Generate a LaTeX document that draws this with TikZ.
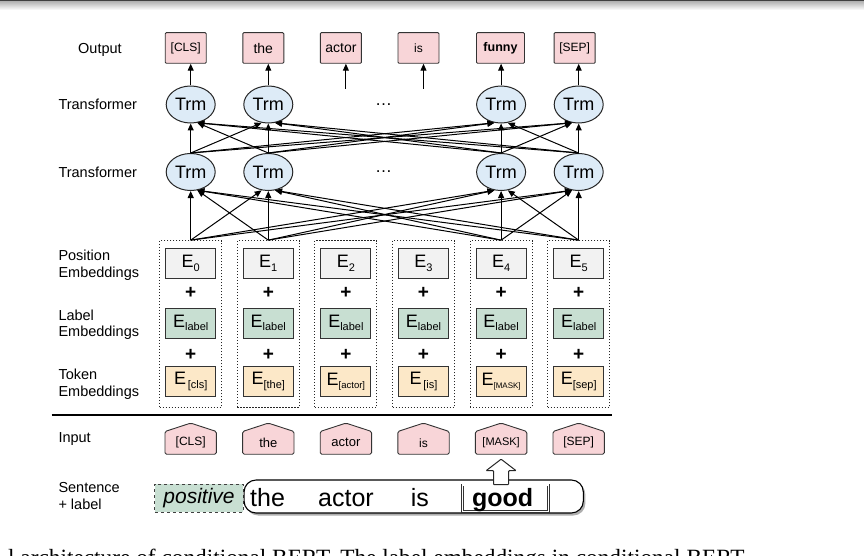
\documentclass[tikz,border=0pt]{standalone}
\usepackage{fontspec}
\setmainfont{Liberation Sans}
\newfontfamily\capfont{Liberation Serif}
\usetikzlibrary{arrows.meta,shapes.geometric,backgrounds,shadows}
\definecolor{outpink}{HTML}{F8D5D8}
\definecolor{trmblue}{HTML}{DDEBF7}
\definecolor{posgray}{HTML}{F2F2F2}
\definecolor{labgreen}{HTML}{C8DFD2}
\definecolor{tokbeige}{HTML}{FCE8C8}
\newcommand\myfs[2]{\fontsize{#1}{#2}\selectfont}
\newcommand\Esub[2][11]{E\raisebox{-3.6pt}{\myfs{#1}{#1}#2}}
\begin{document}
\begin{tikzpicture}[x=1pt,y=-1pt,
  lbl/.style={anchor=west, align=left, font=\myfs{14.5}{16.7}, inner sep=0},
  arr/.style={-{Triangle[length=7pt,width=6pt]}, line width=1pt, black},
  colbox/.style={draw=black!85, dash pattern=on 1.2pt off 1.8pt, line width=1pt, minimum width=62pt, minimum height=166.7pt, inner sep=0},
  ebox/.style={draw=black!80, line width=0.9pt, minimum width=50pt, minimum height=30pt, inner sep=0, font=\myfs{18}{20}},
  posbox/.style={ebox, fill=posgray},
  labbox/.style={ebox, fill=labgreen},
  tokbox/.style={ebox, fill=tokbeige},
  plus/.style={font=\bfseries\myfs{19}{19}, inner sep=0},
  trm/.style={ellipse, draw=black!85, line width=1pt, fill=trmblue, minimum width=49pt, minimum height=37pt, inner sep=0, font=\myfs{18}{20}},
  dotsnode/.style={font=\myfs{17}{18}, inner sep=0},
  outbox/.style={draw=black!80, line width=0.9pt, fill=outpink, minimum width=41pt, minimum height=30.6pt, inner sep=0, rounded corners=1pt},
  inp/.style={minimum width=51pt, minimum height=22.3pt, inner sep=0, font=\myfs{12}{14}},
  inpshape/.style={draw=black!80, line width=0.9pt, fill=outpink, rounded corners=1.5pt},
  word/.style={anchor=base west, inner sep=0, font=\myfs{25}{27}},
  blockarr/.style={draw=black!85, line width=1pt, fill=white, rounded corners=0.8pt}
]
\useasboundingbox (0,0) rectangle (864,556);
\clip (0,0) rectangle (864,556);
% top edge shadow
\shade[top color=black!30, bottom color=white] (0,1.3) rectangle (864,10);
\fill[black!75] (0,0) rectangle (864,1.3);

% left labels
\node[lbl] (lOut) at (78,50) {Output};
\node[lbl] (lT2) at (58.3,104.5) {Transformer};
\node[lbl] (lT1) at (58.3,172) {Transformer};
\node[lbl] (lPos) at (58.3,265) {Position\\Embeddings};
\node[lbl] (lLab) at (58.3,324.7) {Label\\Embeddings};
\node[lbl] (lTok) at (58.3,384.5) {Token\\Embeddings};
\node[lbl] (lIn) at (58.3,439.3) {Input};
\node[lbl] (lSen) at (58.3,496.3) {Sentence\\+ label};

% embedding columns
\foreach \i/\x in {1/190.7,2/268.3,3/345.9,4/423.5,5/501.1,6/578.7}{
  \node[colbox] (c\i) at (\x,324) {};
  \pgfmathtruncatemacro\k{\i-1}
  \node[posbox] (p\i) at (\x,263.3) {\Esub{\k}};
  \node[plus] (pa\i) at (\x,292.7) {+};
  \node[labbox] (l\i) at (\x,323) {\Esub{label}};
  \node[plus] (pb\i) at (\x,355) {+};
}
\node[tokbox] (k1) at (190.7,381.7) {\Esub{\,[cls]}};
\node[tokbox] (k2) at (268.3,381.7) {\Esub{[the]}};
\node[tokbox] (k3) at (345.9,381.7) {\Esub[9.5]{[actor]}};
\node[tokbox] (k4) at (423.5,381.7) {\Esub{\,[is]}};
\node[tokbox] (k5) at (501.1,381.7) {\Esub[8]{[MASK]}};
\node[tokbox] (k6) at (578.7,381.7) {\Esub{[sep]}};

% transformer layers
\foreach \i/\x in {1/190.7,2/268.3,5/501.1,6/578.7}{
  \node[trm] (b\i) at (\x,172) {Trm};
  \node[trm] (t\i) at (\x,104.5) {Trm};
}
\node[dotsnode] (d1) at (383.6,172) {…};
\node[dotsnode] (d2) at (383.6,104.5) {…};

% outputs
\node[outbox, font=\myfs{12}{14}] (o1) at (185.7,48) {[CLS]};
\node[outbox, font=\myfs{14}{16}] (o2) at (263.3,48) {the};
\node[outbox, font=\myfs{14}{16}] (o3) at (340.9,48) {actor};
\node[outbox, font=\myfs{12}{14}] (o4) at (418.5,48) {is};
\node[outbox, font=\bfseries\myfs{12.5}{14}, minimum width=48pt] (o5) at (500.5,48) {funny};
\node[outbox, font=\myfs{12}{14}] (o6) at (574.6,48) {[SEP]};

% connectors
\foreach \i in {1,2,5,6}{
  \draw[arr] (t\i.north) -- (t\i.north |- o\i.south);
  \foreach \j in {1,2,5,6}{
    \pgfmathtruncatemacro\ang{270+20*sign(\i-\j)}
    \draw[arr] (c\i.north) -- (b\j.\ang);
    \draw[arr] (b\i.north) -- (t\j.\ang);
  }
}
\coordinate (a3) at (345.9,89);
\coordinate (a4) at (423.5,89);
\draw[arr] (a3) -- (a3 |- o3.south);
\draw[arr] (a4) -- (a4 |- o4.south);

% separator line
\coordinate (sepL) at (51.7,415);
\coordinate (sepR) at (612,415);
\draw[line width=2.2pt] (sepL) -- (sepR);

% inputs
\node[inp] (i1) at (190.7,442.85) {[CLS]};
\node[inp, font=\myfs{13}{15}] (i2) at (268.3,442.85) {the};
\node[inp, font=\myfs{13}{15}] (i3) at (345.9,442.85) {actor};
\node[inp] (i4) at (423.5,442.85) {is};
\node[inp, font=\myfs{11}{13}] (i5) at (501.1,442.85) {[MASK]};
\node[inp] (i6) at (578.7,442.85) {[SEP]};
\begin{scope}[on background layer]
  \fill[white] (0,12) rectangle (864,556);
  \foreach \i in {1,...,6}{
    \draw[inpshape] (i\i.south west) -- (i\i.north west) -- ([yshift=8.4pt]i\i.north) -- (i\i.north east) -- (i\i.south east) -- cycle;
  }
\end{scope}

% sentence + label
\node[draw=black!75, dashed, line width=0.9pt, fill=labgreen, minimum width=88.3pt, minimum height=28pt, inner sep=0, font=\itshape\myfs{21}{23}] (pos) at (199,498) {positive};
\node[draw=black, line width=1.1pt, fill=white, rounded corners=12pt, minimum width=339.3pt, minimum height=33pt, drop shadow={shadow xshift=2pt, shadow yshift=-2.5pt, fill=black!45, opacity=0.7}] (sb) at (413.7,496.5) {};
\node[draw=black!80, double=white, double distance=1.2pt, line width=0.6pt, minimum width=86pt, minimum height=26.6pt, inner sep=0] (gb) at (505.3,498.3) {};
\node[word] (w1) at (250,506) {the};
\node[word] (w2) at (318,506) {actor};
\node[word] (w3) at (410.7,506) {is};
\node[word, anchor=base, font=\bfseries\myfs{25}{27}] (w4) at (502.7,506) {good};

% block arrow from good to [MASK]
\coordinate (tip) at ([yshift=-5pt]i5.south);
\coordinate (tipR) at ([xshift=7.5pt]tip);
\coordinate (tipL) at ([xshift=-7.5pt]tip);
\draw[blockarr] (tip) -- ([xshift=15pt,yshift=-11.5pt]tip) -- ([yshift=-11.5pt]tipR) -- (tipR |- gb.north) -- (tipL |- gb.north) -- ([yshift=-11.5pt]tipL) -- ([xshift=-15pt,yshift=-11.5pt]tip) -- cycle;

% caption (cut by the page edge, as in the reference)
\node[anchor=base west, inner sep=0, font=\capfont\myfs{23.3}{25}] (cap) at (8,565) {l architecture of conditional BERT. The label embeddings in conditional BERT};
\end{tikzpicture}
\end{document}
